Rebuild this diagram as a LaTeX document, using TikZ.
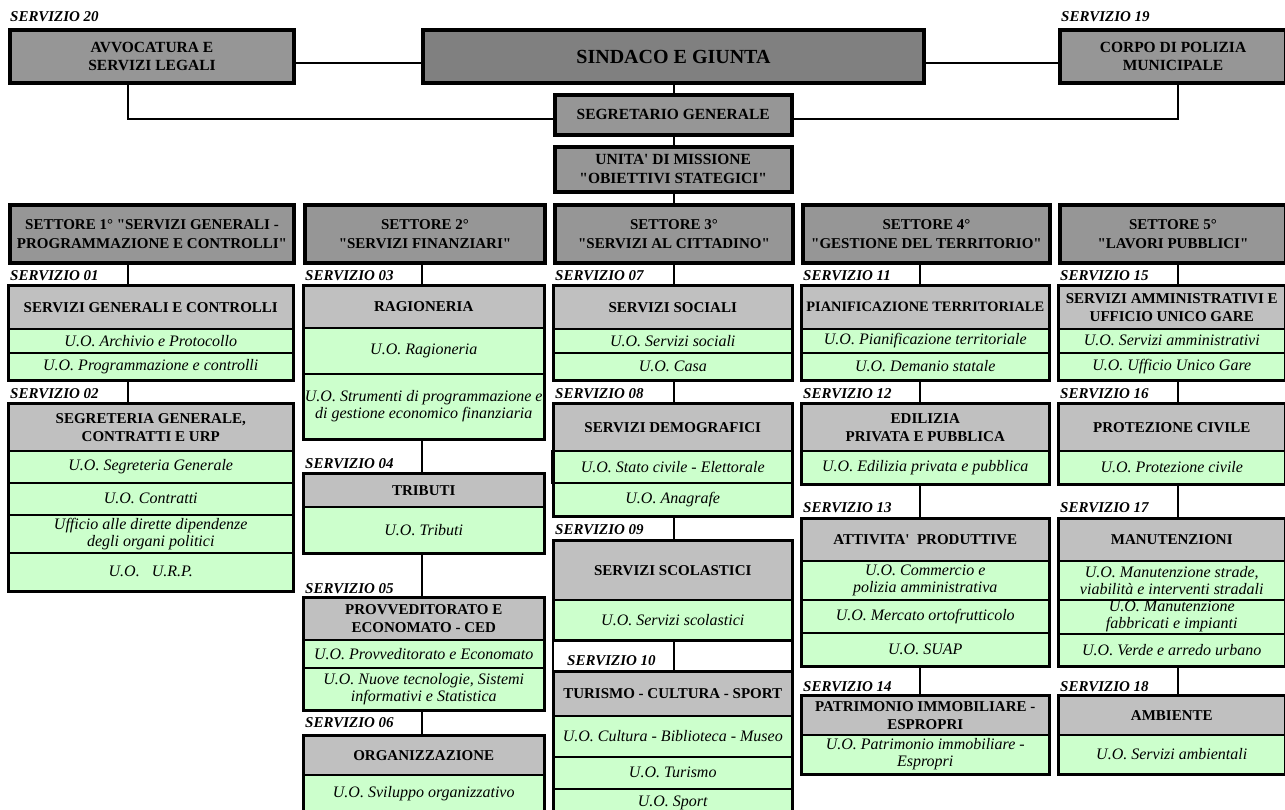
\documentclass[tikz,border=0pt]{standalone}
\usepackage{fontspec}
\setmainfont{Liberation Serif}[Ligatures=TeXOff]
\definecolor{dkg}{HTML}{808080}
\definecolor{mdg}{HTML}{969696}
\definecolor{ltg}{HTML}{C0C0C0}
\definecolor{uog}{HTML}{CCFFCC}
\newcommand{\mkcell}[7]{\node[#2, minimum width=#5pt, minimum height=#6pt, anchor=north west] (#1) at (#3,#4) {#7};}
\newcommand{\grp}[2]{\draw[grpb] (#1.north west) rectangle (#2.south east);}
\tikzset{
  bigbox/.style={draw, line width=4pt, fill=mdg, align=center, inner sep=0pt, font=\fontsize{15.5}{18}\selectfont\bfseries},
  sinbox/.style={bigbox, fill=dkg, font=\fontsize{20}{22}\selectfont\bfseries},
  midbox/.style={draw, line width=3.5pt, fill=mdg, align=center, inner sep=0pt, font=\fontsize{15.5}{19}\selectfont\bfseries},
  setbox/.style={draw, line width=4pt, fill=mdg, align=center, inner sep=0pt, font=\fontsize{15}{19}\selectfont\bfseries},
  hdr/.style={draw, line width=1.5pt, fill=ltg, align=center, inner sep=0pt, font=\fontsize{15}{18}\selectfont\bfseries},
  uo/.style={draw, line width=1.5pt, fill=uog, align=center, inner sep=0pt, font=\fontsize{16}{17}\selectfont\itshape},
  lbl/.style={inner sep=0pt, anchor=west, font=\fontsize{15}{17}\selectfont\bfseries\itshape},
  grpb/.style={line width=2.2pt},
  conn/.style={line width=2pt}
}
\begin{document}
\begin{tikzpicture}[x=1pt,y=-1pt]
\fill[white] (0,0) rectangle (1285,809);
\useasboundingbox (0,0) rectangle (1285,809);
\coordinate (k1) at (128,0);
\coordinate (k2) at (422,0);
\coordinate (k3) at (674,0);
\coordinate (k4) at (920,0);
\coordinate (k5) at (1178,0);
\coordinate (hA) at (0,63);
\coordinate (hB) at (0,119);
% top
\node[lbl] (l20) at (10,17) {SERVIZIO 20};
\node[lbl] (l19) at (1061,17) {SERVIZIO 19};
\mkcell{avv}{bigbox}{8}{28}{284}{53}{AVVOCATURA E\\SERVIZI LEGALI}
\mkcell{sin}{sinbox}{421}{28}{501}{53}{SINDACO E GIUNTA}
\mkcell{cor}{bigbox}{1058}{28}{226}{53}{CORPO DI POLIZIA\\MUNICIPALE}
\mkcell{seg}{midbox}{553}{93}{237}{40}{SEGRETARIO GENERALE}
\mkcell{uni}{midbox}{553}{145}{237}{45}{UNITA' DI MISSIONE\\"OBIETTIVI STATEGICI"}
% settori
\mkcell{st1}{setbox}{8}{203}{284}{58}{SETTORE 1° "SERVIZI GENERALI -\\PROGRAMMAZIONE E CONTROLLI"}
\mkcell{st2}{setbox}{303}{203}{240}{58}{SETTORE 2°\\"SERVIZI FINANZIARI"}
\mkcell{st3}{setbox}{553}{203}{238}{58}{SETTORE 3°\\"SERVIZI AL CITTADINO"}
\mkcell{st4}{setbox}{801}{203}{247}{58}{SETTORE 4°\\"GESTIONE DEL TERRITORIO"}
\mkcell{st5}{setbox}{1058}{203}{226}{58}{SETTORE 5°\\"LAVORI PUBBLICI"}
% column 1
\node[lbl] (l01) at (10,276) {SERVIZIO 01};
\mkcell{g01}{hdr}{8}{285}{284}{43}{SERVIZI GENERALI E CONTROLLI}
\mkcell{u01a}{uo}{8}{328}{284}{24}{U.O. Archivio e Protocollo}
\mkcell{u01b}{uo}{8}{352}{284}{27}{U.O. Programmazione e controlli}
\node[lbl] (l02) at (10,394) {SERVIZIO 02};
\mkcell{g02}{hdr}{8}{403}{284}{47}{SEGRETERIA GENERALE,\\CONTRATTI E URP}
\mkcell{u02a}{uo}{8}{450}{284}{32}{U.O. Segreteria Generale}
\mkcell{u02b}{uo}{8}{482}{284}{32}{U.O. Contratti}
\mkcell{u02c}{uo}{8}{514}{284}{38}{Ufficio alle dirette dipendenze\\degli organi politici}
\mkcell{u02d}{uo}{8}{552}{284}{38}{U.O.\ \ \ U.R.P.}
% column 2
\node[lbl] (l03) at (305,276) {SERVIZIO 03};
\mkcell{g03}{hdr}{303}{285}{240}{42}{RAGIONERIA}
\mkcell{u03a}{uo}{303}{327}{240}{46}{U.O. Ragioneria}
\mkcell{u03b}{uo}{303}{373}{240}{65}{U.O. Strumenti di programmazione e\\di gestione economico finanziaria}
\node[lbl] (l04) at (305,464) {SERVIZIO 04};
\mkcell{g04}{hdr}{303}{473}{240}{33}{TRIBUTI}
\mkcell{u04a}{uo}{303}{506}{240}{46}{U.O. Tributi}
\node[lbl] (l05) at (305,589) {SERVIZIO 05};
\mkcell{g05}{hdr}{303}{597}{240}{42}{PROVVEDITORATO E\\ECONOMATO - CED}
\mkcell{u05a}{uo}{303}{639}{240}{28}{U.O. Provveditorato e Economato}
\mkcell{u05b}{uo}{303}{667}{240}{42}{U.O. Nuove tecnologie, Sistemi\\informativi e Statistica}
\node[lbl] (l06) at (305,723) {SERVIZIO 06};
\mkcell{g06}{hdr}{303}{735}{240}{39}{ORGANIZZAZIONE}
\mkcell{u06a}{uo}{303}{774}{240}{38}{U.O. Sviluppo organizzativo}
% column 3
\node[lbl] (l07) at (555,276) {SERVIZIO 07};
\mkcell{g07}{hdr}{553}{285}{238}{43}{SERVIZI SOCIALI}
\mkcell{u07a}{uo}{553}{328}{238}{24}{U.O. Servizi sociali}
\mkcell{u07b}{uo}{553}{352}{238}{27}{U.O. Casa}
\node[lbl] (l08) at (555,394) {SERVIZIO 08};
\mkcell{g08}{hdr}{553}{403}{238}{47}{SERVIZI DEMOGRAFICI}
\mkcell{u08a}{uo}{553}{450}{238}{32}{U.O. Stato civile - Elettorale}
\mkcell{u08b}{uo}{553}{482}{238}{33}{U.O. Anagrafe}
\node[lbl] (l09) at (555,530) {SERVIZIO 09};
\mkcell{g09}{hdr}{553}{540}{238}{59}{SERVIZI SCOLASTICI}
\mkcell{u09a}{uo}{553}{599}{238}{40}{U.O. Servizi scolastici}
\node[lbl] (l10) at (567,661) {SERVIZIO 10};
\mkcell{g10}{hdr}{553}{671}{238}{44}{TURISMO - CULTURA - SPORT}
\mkcell{u10a}{uo}{553}{715}{238}{41}{U.O. Cultura - Biblioteca - Museo}
\mkcell{u10b}{uo}{553}{756}{238}{32}{U.O. Turismo}
\mkcell{u10c}{uo}{553}{788}{238}{28}{U.O. Sport}
% column 4
\node[lbl] (l11) at (803,276) {SERVIZIO 11};
\mkcell{g11}{hdr, font=\fontsize{14.4}{18}\selectfont\bfseries}{801}{285}{247}{43}{PIANIFICAZIONE TERRITORIALE}
\mkcell{u11a}{uo}{801}{328}{247}{24}{U.O. Pianificazione territoriale}
\mkcell{u11b}{uo}{801}{352}{247}{27}{U.O. Demanio statale}
\node[lbl] (l12) at (803,394) {SERVIZIO 12};
\mkcell{g12}{hdr}{801}{403}{247}{47}{EDILIZIA\\PRIVATA E PUBBLICA}
\mkcell{u12a}{uo}{801}{450}{247}{33}{U.O. Edilizia privata e pubblica}
\node[lbl] (l13) at (803,508) {SERVIZIO 13};
\mkcell{g13}{hdr}{801}{518}{247}{42}{ATTIVITA'\ \ PRODUTTIVE}
\mkcell{u13a}{uo}{801}{560}{247}{39}{U.O. Commercio e\\polizia amministrativa}
\mkcell{u13b}{uo}{801}{599}{247}{33}{U.O. Mercato ortofrutticolo}
\mkcell{u13c}{uo}{801}{632}{247}{33}{U.O. SUAP}
\node[lbl] (l14) at (803,687) {SERVIZIO 14};
\mkcell{g14}{hdr}{801}{695}{247}{39}{PATRIMONIO IMMOBILIARE -\\ESPROPRI}
\mkcell{u14a}{uo}{801}{734}{247}{39}{U.O. Patrimonio immobiliare -\\Espropri}
% column 5
\node[lbl] (l15) at (1060,276) {SERVIZIO 15};
\mkcell{g15}{hdr}{1058}{285}{226}{43}{SERVIZI AMMINISTRATIVI E\\UFFICIO UNICO GARE}
\mkcell{u15a}{uo}{1058}{328}{226}{24}{U.O. Servizi amministrativi}
\mkcell{u15b}{uo}{1058}{352}{226}{27}{U.O. Ufficio Unico Gare}
\node[lbl] (l16) at (1060,394) {SERVIZIO 16};
\mkcell{g16}{hdr}{1058}{403}{226}{47}{PROTEZIONE CIVILE}
\mkcell{u16a}{uo}{1058}{450}{226}{33}{U.O. Protezione civile}
\node[lbl] (l17) at (1060,508) {SERVIZIO 17};
\mkcell{g17}{hdr}{1058}{518}{226}{42}{MANUTENZIONI}
\mkcell{u17a}{uo}{1058}{560}{226}{39}{U.O. Manutenzione strade,\\viabilità e interventi stradali}
\mkcell{u17b}{uo}{1058}{599}{226}{34}{U.O. Manutenzione\\fabbricati e impianti}
\mkcell{u17c}{uo}{1058}{633}{226}{32}{U.O. Verde e arredo urbano}
\node[lbl] (l18) at (1060,687) {SERVIZIO 18};
\mkcell{g18}{hdr}{1058}{695}{226}{39}{AMBIENTE}
\mkcell{u18a}{uo}{1058}{734}{226}{39}{U.O. Servizi ambientali}
% group outlines
\grp{g01}{u01b}\grp{g02}{u02d}
\grp{g03}{u03b}\grp{g04}{u04a}\grp{g05}{u05b}\grp{g06}{u06a}
\grp{g07}{u07b}\grp{g08}{u08b}\grp{g09}{u09a}\grp{g10}{u10c}
\grp{g11}{u11b}\grp{g12}{u12a}\grp{g13}{u13c}\grp{g14}{u14a}
\grp{g15}{u15b}\grp{g16}{u16a}\grp{g17}{u17c}\grp{g18}{u18a}
\draw[line width=3.5pt] (u08a.north west) -- (u08a.south west);
\draw[line width=3.5pt] (u08a.north east) -- (u08a.south east);
\draw[grpb] (u09a.south west) -- (g10.north west);
\draw[grpb] (u09a.south east) -- (g10.north east);
% connectors top
\draw[conn] (avv.east |- hA) -- (sin.west |- hA);
\draw[conn] (sin.east |- hA) -- (cor.west |- hA);
\draw[conn] (avv.south -| k1) |- (seg.west |- hB);
\draw[conn] (cor.south -| k5) |- (seg.east |- hB);
\draw[conn] (sin.south -| k3) -- (seg.north -| k3);
\draw[conn] (seg.south -| k3) -- (uni.north -| k3);
\draw[conn] (uni.south -| k3) -- (st3.north -| k3);
% column connectors
\draw[conn] (st1.south -| k1) -- (g01.north -| k1);
\draw[conn] (u01b.south -| k1) -- (g02.north -| k1);
\draw[conn] (st2.south -| k2) -- (g03.north -| k2);
\draw[conn] (u03b.south -| k2) -- (g04.north -| k2);
\draw[conn] (u04a.south -| k2) -- (g05.north -| k2);
\draw[conn] (u05b.south -| k2) -- (g06.north -| k2);
\draw[conn] (st3.south -| k3) -- (g07.north -| k3);
\draw[conn] (u07b.south -| k3) -- (g08.north -| k3);
\draw[conn] (u08b.south -| k3) -- (g09.north -| k3);
\draw[conn] (u09a.south -| k3) -- (g10.north -| k3);
\draw[conn] (st4.south -| k4) -- (g11.north -| k4);
\draw[conn] (u11b.south -| k4) -- (g12.north -| k4);
\draw[conn] (u12a.south -| k4) -- (g13.north -| k4);
\draw[conn] (u13c.south -| k4) -- (g14.north -| k4);
\draw[conn] (st5.south -| k5) -- (g15.north -| k5);
\draw[conn] (u15b.south -| k5) -- (g16.north -| k5);
\draw[conn] (u16a.south -| k5) -- (g17.north -| k5);
\draw[conn] (u17c.south -| k5) -- (g18.north -| k5);
\end{tikzpicture}
\end{document}
